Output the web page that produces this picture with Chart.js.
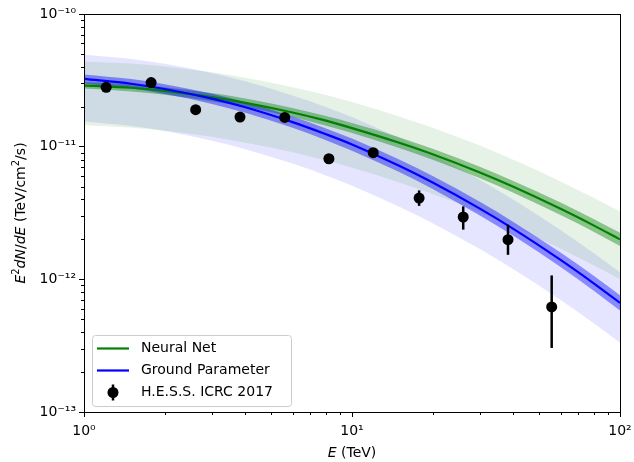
<!DOCTYPE html>
<html>
<head>
<meta charset="utf-8">
<script src="https://cdn.jsdelivr.net/npm/chart.js@4.4.1/dist/chart.umd.min.js"></script>
<style>
  body { margin: 0; background: #fff; }
  canvas { display: block; }
</style>
</head>
<body>
<canvas id="spectrumChart" width="634" height="462"></canvas>
<script>
// energy grid of the model curves (TeV)
const energyGrid = [1, 1.5, 2, 3, 4, 6, 8, 10, 15, 20, 30, 40, 60, 80, 100];

// Neural Net
const nnFlux    = [2.90e-11, 2.78e-11, 2.63e-11, 2.36e-11, 2.14e-11, 1.81e-11, 1.57e-11, 1.38e-11, 1.07e-11, 8.76e-12, 6.38e-12, 4.98e-12, 3.40e-12, 2.54e-12, 2.00e-12];
const nnInnerHi = [3.07e-11, 2.95e-11, 2.81e-11, 2.54e-11, 2.31e-11, 1.96e-11, 1.70e-11, 1.51e-11, 1.18e-11, 9.63e-12, 7.05e-12, 5.52e-12, 3.79e-12, 2.84e-12, 2.24e-12];
const nnInnerLo = [2.74e-11, 2.61e-11, 2.46e-11, 2.20e-11, 1.99e-11, 1.67e-11, 1.44e-11, 1.27e-11, 9.79e-12, 7.96e-12, 5.77e-12, 4.49e-12, 3.05e-12, 2.27e-12, 1.78e-12];
const nnOuterHi = [4.39e-11, 4.23e-11, 4.02e-11, 3.64e-11, 3.31e-11, 2.81e-11, 2.45e-11, 2.17e-11, 1.69e-11, 1.39e-11, 1.02e-11, 7.96e-12, 5.47e-12, 4.10e-12, 3.24e-12];
const nnOuterLo = [1.45e-11, 1.39e-11, 1.32e-11, 1.19e-11, 1.07e-11, 9.06e-12, 7.85e-12, 6.93e-12, 5.38e-12, 4.39e-12, 3.20e-12, 2.49e-12, 1.70e-12, 1.27e-12, 1.00e-12];

// Ground Parameter
const gpFlux    = [3.24e-11, 2.98e-11, 2.72e-11, 2.30e-11, 1.98e-11, 1.53e-11, 1.24e-11, 1.04e-11, 7.17e-12, 5.36e-12, 3.41e-12, 2.40e-12, 1.40e-12, 9.29e-13, 6.64e-13];
const gpInnerHi = [3.50e-11, 3.23e-11, 2.96e-11, 2.51e-11, 2.17e-11, 1.69e-11, 1.37e-11, 1.15e-11, 8.00e-12, 6.00e-12, 3.84e-12, 2.71e-12, 1.59e-12, 1.06e-12, 7.57e-13];
const gpInnerLo = [2.99e-11, 2.74e-11, 2.49e-11, 2.10e-11, 1.80e-11, 1.39e-11, 1.12e-11, 9.32e-12, 6.43e-12, 4.79e-12, 3.03e-12, 2.13e-12, 1.24e-12, 8.17e-13, 5.82e-13];
const gpOuterHi = [4.93e-11, 4.58e-11, 4.21e-11, 3.59e-11, 3.11e-11, 2.43e-11, 1.99e-11, 1.67e-11, 1.16e-11, 8.77e-12, 5.63e-12, 3.99e-12, 2.35e-12, 1.57e-12, 1.13e-12];
const gpOuterLo = [1.55e-11, 1.43e-11, 1.31e-11, 1.11e-11, 9.58e-12, 7.46e-12, 6.06e-12, 5.07e-12, 3.53e-12, 2.65e-12, 1.69e-12, 1.19e-12, 6.99e-13, 4.65e-13, 3.33e-13];

// H.E.S.S. ICRC 2017 points
const hessE    = [1.21, 1.78, 2.61, 3.82, 5.61, 8.2, 12.0, 17.8, 26.0, 38.2, 55.6];
const hessFlux = [2.80e-11, 3.04e-11, 1.90e-11, 1.67e-11, 1.66e-11, 8.11e-12, 9.01e-12, 4.10e-12, 2.95e-12, 1.99e-12, 6.2e-13];
const hessHi   = [2.90e-11, 3.15e-11, 1.97e-11, 1.74e-11, 1.73e-11, 8.5e-12, 9.5e-12, 4.68e-12, 3.55e-12, 2.58e-12, 1.07e-12];
const hessLo   = [2.70e-11, 2.93e-11, 1.83e-11, 1.60e-11, 1.59e-11, 7.7e-12, 8.5e-12, 3.58e-12, 2.37e-12, 1.53e-12, 3.04e-13];

const xTicks = [1, 10, 100];
const yTicks = [1e-13, 1e-12, 1e-11, 1e-10];

const FONT = '"DejaVu Sans", sans-serif';

function pts(xs, ys) {
    return xs.map((x, i) => ({x: x, y: ys[i]}));
}

function edge(ys, fill, color, order) {
    return {
        data: pts(energyGrid, ys),
        borderColor: 'transparent',
        borderWidth: 0,
        pointRadius: 0,
        backgroundColor: color,
        fill: fill,
        order: order
    };
}

function supText(n) {
    const map = {'-': '\u207B', '0': '\u2070', '1': '\u00B9', '2': '\u00B2', '3': '\u00B3'};
    return String(n).split('').map(c => map[c]).join('');
}

// vertical error bars for the H.E.S.S. points
const errorBars = {
    id: 'errorBars',
    afterDatasetsDraw(chart) {
        const ctx = chart.ctx, xs = chart.scales.x, ys = chart.scales.y;
        ctx.save();
        ctx.strokeStyle = '#000';
        ctx.lineWidth = 2.5;
        hessE.forEach((e, i) => {
            const px = xs.getPixelForValue(e);
            ctx.beginPath();
            ctx.moveTo(px, ys.getPixelForValue(hessHi[i]));
            ctx.lineTo(px, ys.getPixelForValue(hessLo[i]));
            ctx.stroke();
        });
        ctx.restore();
    }
};

// frame, minor ticks, axis titles, legend
const decorations = {
    id: 'decorations',
    afterDraw(chart) {
        const ctx = chart.ctx, a = chart.chartArea;
        const xs = chart.scales.x, ys = chart.scales.y;
        ctx.save();
        ctx.strokeStyle = '#000';
        ctx.lineWidth = 1;
        ctx.strokeRect(a.left + 0.5, a.top + 0.5, a.right - a.left, a.bottom - a.top);

        // minor ticks
        ctx.beginPath();
        [1, 10].forEach(d => {
            for (let m = 2; m <= 9; m++) {
                const px = Math.round(xs.getPixelForValue(d * m)) + 0.5;
                ctx.moveTo(px, a.bottom);
                ctx.lineTo(px, a.bottom + 3);
            }
        });
        [1e-13, 1e-12, 1e-11].forEach(d => {
            for (let m = 2; m <= 9; m++) {
                const py = Math.round(ys.getPixelForValue(d * m)) + 0.5;
                ctx.moveTo(a.left, py);
                ctx.lineTo(a.left - 3, py);
            }
        });
        ctx.stroke();

        // x title
        ctx.fillStyle = '#000';
        ctx.textBaseline = 'alphabetic';
        const xParts = [['italic 14px ' + FONT, 'E', 0], ['14px ' + FONT, ' (TeV)', 0]];
        drawParts(ctx, xParts, (a.left + a.right) / 2, 457);

        // y title
        ctx.save();
        ctx.translate(25, (a.top + a.bottom) / 2);
        ctx.rotate(-Math.PI / 2);
        const yParts = [
            ['italic 14px ' + FONT, 'E', 0],
            ['10px ' + FONT, '2', -6],
            ['italic 14px ' + FONT, 'dN', 0],
            ['14px ' + FONT, '/', 0],
            ['italic 14px ' + FONT, 'dE', 0],
            ['14px ' + FONT, ' (TeV/cm', 0],
            ['10px ' + FONT, '2', -6],
            ['14px ' + FONT, '/s)', 0]
        ];
        drawParts(ctx, yParts, 0, 0);
        ctx.restore();

        // legend
        const lx = 92, ly = 335, lw = 199, lh = 71;
        ctx.beginPath();
        ctx.roundRect(lx + 0.5, ly + 0.5, lw, lh, 3);
        ctx.fillStyle = 'rgba(255,255,255,0.8)';
        ctx.fill();
        ctx.strokeStyle = '#cccccc';
        ctx.lineWidth = 1;
        ctx.stroke();

        const rows = [348.5, 370.5, 392.5];
        ctx.lineWidth = 2.2;
        ctx.strokeStyle = '#008000';
        ctx.beginPath(); ctx.moveTo(97, rows[0]); ctx.lineTo(129, rows[0]); ctx.stroke();
        ctx.strokeStyle = '#0000ff';
        ctx.beginPath(); ctx.moveTo(97, rows[1]); ctx.lineTo(129, rows[1]); ctx.stroke();
        ctx.strokeStyle = '#000';
        ctx.lineWidth = 2.5;
        ctx.beginPath(); ctx.moveTo(113, rows[2] - 8); ctx.lineTo(113, rows[2] + 8); ctx.stroke();
        ctx.fillStyle = '#000';
        ctx.beginPath(); ctx.arc(113, rows[2], 5.5, 0, Math.PI * 2); ctx.fill();

        ctx.font = '14px ' + FONT;
        ctx.textBaseline = 'middle';
        ctx.textAlign = 'left';
        const labels = ['Neural Net', 'Ground Parameter', 'H.E.S.S. ICRC 2017'];
        labels.forEach((t, i) => ctx.fillText(t, 141, rows[i]));
        ctx.restore();
    }
};

function drawParts(ctx, parts, cx, baseY) {
    let total = 0;
    parts.forEach(p => { ctx.font = p[0]; total += ctx.measureText(p[1]).width; });
    let x = cx - total / 2;
    ctx.textAlign = 'left';
    parts.forEach(p => {
        ctx.font = p[0];
        ctx.fillText(p[1], x, baseY + p[2]);
        x += ctx.measureText(p[1]).width;
    });
}

const ctx = document.getElementById('spectrumChart').getContext('2d');

new Chart(ctx, {
    type: 'line',
    data: {
        datasets: [
            // 0,1 GP outer band
            edge(gpOuterHi, '+1', 'rgba(0,0,255,0.1)', 8),
            edge(gpOuterLo, false, 'transparent', 8),
            // 2,3 NN outer band
            edge(nnOuterHi, '+1', 'rgba(0,128,0,0.1)', 7),
            edge(nnOuterLo, false, 'transparent', 7),
            // 4,5 NN inner band
            edge(nnInnerHi, '+1', 'rgba(0,128,0,0.4)', 6),
            edge(nnInnerLo, false, 'transparent', 6),
            // 6,7 GP inner band
            edge(gpInnerHi, '+1', 'rgba(0,0,255,0.4)', 5),
            edge(gpInnerLo, false, 'transparent', 5),
            {
                label: 'Neural Net',
                data: pts(energyGrid, nnFlux),
                borderColor: '#008000',
                borderWidth: 2.2,
                pointRadius: 0,
                fill: false,
                order: 3
            },
            {
                label: 'Ground Parameter',
                data: pts(energyGrid, gpFlux),
                borderColor: '#0000ff',
                borderWidth: 2.2,
                pointRadius: 0,
                fill: false,
                order: 2
            },
            {
                label: 'H.E.S.S. ICRC 2017',
                data: pts(hessE, hessFlux),
                showLine: false,
                pointRadius: 5.5,
                pointBorderWidth: 0,
                pointBackgroundColor: '#000',
                pointBorderColor: '#000',
                order: 1
            }
        ]
    },
    options: {
        responsive: false,
        animation: false,
        cubicInterpolationMode: 'monotone',
        layout: {padding: {top: 14, right: 14, left: 0, bottom: 0}},
        plugins: {
            legend: {display: false},
            tooltip: {enabled: false}
        },
        scales: {
            x: {
                type: 'logarithmic',
                min: 1,
                max: 100,
                afterBuildTicks: s => { s.ticks = xTicks.map(v => ({value: v})); },
                afterFit: s => { s.height = 50; s.paddingLeft = 0; s.paddingRight = 0; },
                grid: {drawOnChartArea: false, drawTicks: true, tickLength: 5, tickColor: '#000'},
                border: {display: true, color: '#000', width: 1},
                ticks: {
                    color: '#000',
                    font: {family: FONT, size: 14},
                    padding: 6,
                    maxRotation: 0,
                    autoSkip: false,
                    callback: v => '10' + supText(Math.round(Math.log10(v)))
                }
            },
            y: {
                type: 'logarithmic',
                min: 1e-13,
                max: 1e-10,
                afterBuildTicks: s => { s.ticks = yTicks.map(v => ({value: v})); },
                afterFit: s => { s.width = 84; s.paddingTop = 0; s.paddingBottom = 0; },
                grid: {drawOnChartArea: false, drawTicks: true, tickLength: 5, tickColor: '#000'},
                border: {display: true, color: '#000', width: 1},
                ticks: {
                    color: '#000',
                    font: {family: FONT, size: 14},
                    padding: 3,
                    autoSkip: false,
                    callback: v => '10' + supText(Math.round(Math.log10(v)))
                }
            }
        }
    },
    plugins: [errorBars, decorations]
});
</script>
</body>
</html>
